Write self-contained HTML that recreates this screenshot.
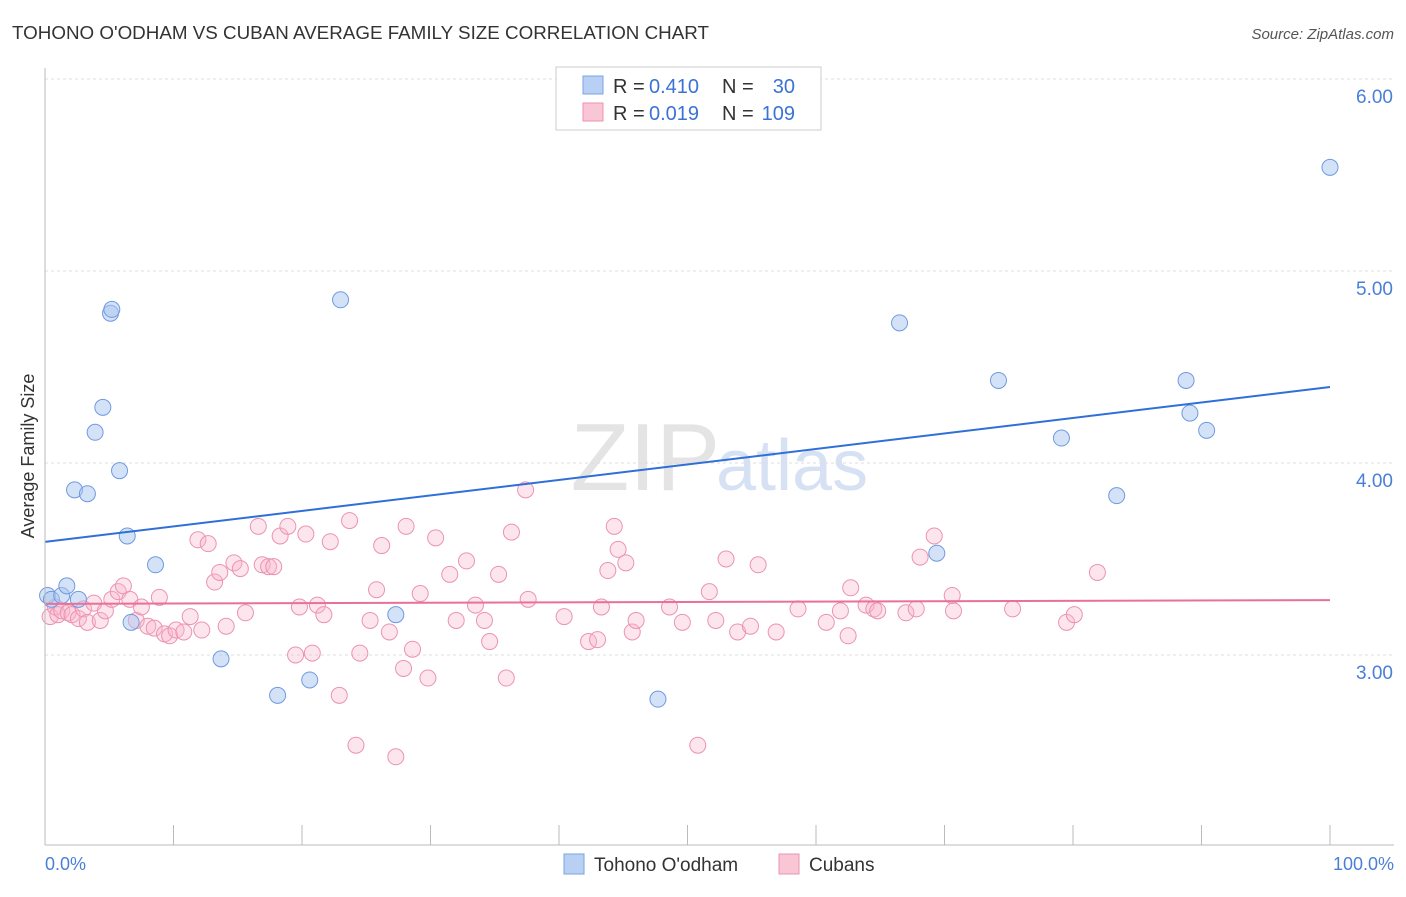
<!DOCTYPE html>
<html><head><meta charset="utf-8"><style>
body{margin:0;background:#fff;font-family:"Liberation Sans",sans-serif;}
svg text{font-family:"Liberation Sans",sans-serif;}
</style></head><body>
<svg id="c" width="1406" height="892">
<text x="12" y="39" font-size="18" fill="#333" textLength="697" lengthAdjust="spacingAndGlyphs">TOHONO O'ODHAM VS CUBAN AVERAGE FAMILY SIZE CORRELATION CHART</text>
<text x="1394" y="39" font-size="15" fill="#555" font-style="italic" text-anchor="end">Source: ZipAtlas.com</text>
<text x="720" y="490" font-size="96" fill="#e4e4e4" text-anchor="end" font-family="Liberation Serif">ZIP</text>
<text x="716" y="490" font-size="72" fill="#d6e2f4">atlas</text>
<text transform="translate(34,456) rotate(-90)" font-size="18" fill="#333" text-anchor="middle">Average Family Size</text>
<g id="grid"></g><g id="pts"></g><g id="lines"></g>
<line x1="45" y1="68" x2="45" y2="845" stroke="#bbb"/>
<line x1="45" y1="845" x2="1394" y2="845" stroke="#bbb"/>
<text x="45" y="870" font-size="18" fill="#4a7fd8">0.0%</text>
<text x="1394" y="870" font-size="18" fill="#4a7fd8" text-anchor="end">100.0%</text>
<g>
<rect x="556" y="67" width="265" height="63" fill="#fff" stroke="#ccc"/>
<rect x="583" y="76" width="20" height="18" fill="#b8d0f4" stroke="#7aa3e0"/>
<rect x="583" y="103" width="20" height="18" fill="#f9c6d6" stroke="#eb93b0"/>
<text x="613" y="93" font-size="20" fill="#333">R =</text>
<text x="649" y="93" font-size="20" fill="#3b72d6">0.410</text>
<text x="722" y="93" font-size="20" fill="#333">N =</text>
<text x="795" y="93" font-size="20" fill="#3b72d6" text-anchor="end">30</text>
<text x="613" y="120" font-size="20" fill="#333">R =</text>
<text x="649" y="120" font-size="20" fill="#3b72d6">0.019</text>
<text x="722" y="120" font-size="20" fill="#333">N =</text>
<text x="795" y="120" font-size="20" fill="#3b72d6" text-anchor="end">109</text>
</g>
<g>
<rect x="564" y="854" width="20" height="20" fill="#b8d0f4" stroke="#7aa3e0"/>
<text x="594" y="871" font-size="19" fill="#333">Tohono O'odham</text>
<rect x="779" y="854" width="20" height="20" fill="#f9c6d6" stroke="#eb93b0"/>
<text x="809" y="871" font-size="19" fill="#333">Cubans</text>
</g>
</svg>
<script>
const yTicks=[3,4,5,6];
const yTickLabels=["3.00","4.00","5.00","6.00"];
const xTicks=[0,10,20,30,40,50,60,70,80,90,100];
const blueX=[0.2,0.5,1.3,1.7,2.6,2.3,3.3,3.9,4.5,5.1,5.2,5.8,6.4,6.7,8.6,13.7,18.1,20.6,23.0,27.3,47.7,66.5,69.4,74.2,79.1,83.4,88.8,89.1,90.4,100];
const blueY=[3.31,3.29,3.31,3.36,3.29,3.86,3.84,4.16,4.29,4.78,4.80,3.96,3.62,3.17,3.47,2.98,2.79,2.87,4.85,3.21,2.77,4.73,3.53,4.43,4.13,3.83,4.43,4.26,4.17,5.54];
const pinkX=[0.4,0.8,1.0,1.3,1.8,2.1,2.6,3.0,3.3,3.8,4.3,4.7,5.2,5.7,6.1,6.6,7.1,7.5,8.0,8.5,8.9,9.3,9.7,10.2,10.8,11.3,11.9,12.2,12.7,13.2,13.6,14.1,14.7,15.2,15.6,16.6,16.9,17.4,17.8,18.3,18.9,19.5,19.8,20.3,20.8,21.2,21.7,22.2,22.9,23.7,24.2,24.5,25.3,25.8,26.2,26.8,27.3,27.9,28.1,28.6,29.2,29.8,30.4,31.5,32.0,32.8,33.5,34.2,34.6,35.3,35.9,36.3,37.4,37.6,40.4,42.3,43.0,43.3,43.8,44.3,44.6,45.2,45.7,46.0,48.6,49.6,50.8,51.7,52.2,53.0,53.9,54.9,55.5,56.9,58.6,60.8,61.9,62.5,62.7,63.9,64.5,64.8,67.0,67.8,68.1,69.2,70.6,70.7,75.3,79.5,80.1,81.9];
const pinkY=[3.20,3.25,3.21,3.23,3.22,3.21,3.19,3.24,3.17,3.27,3.18,3.23,3.29,3.33,3.36,3.29,3.18,3.25,3.15,3.14,3.30,3.11,3.10,3.13,3.12,3.20,3.60,3.13,3.58,3.38,3.43,3.15,3.48,3.45,3.22,3.67,3.47,3.46,3.46,3.62,3.67,3.00,3.25,3.63,3.01,3.26,3.21,3.59,2.79,3.70,2.53,3.01,3.18,3.34,3.57,3.12,2.47,2.93,3.67,3.03,3.32,2.88,3.61,3.42,3.18,3.49,3.26,3.18,3.07,3.42,2.88,3.64,3.86,3.29,3.20,3.07,3.08,3.25,3.44,3.67,3.55,3.48,3.12,3.18,3.25,3.17,2.53,3.33,3.18,3.50,3.12,3.15,3.47,3.12,3.24,3.17,3.23,3.10,3.35,3.26,3.24,3.23,3.22,3.24,3.51,3.62,3.31,3.23,3.24,3.17,3.21,3.43];
const blueLine=[3.589,4.396];
const pinkLine=[3.266,3.286];
const NS="http://www.w3.org/2000/svg";
const X=v=>45+v/100*1285;
const Y=v=>79+(6-v)*192;
function mk(t,a,p){const e=document.createElementNS(NS,t);for(const k in a)e.setAttribute(k,a[k]);p.appendChild(e);return e;}
const grid=document.getElementById('grid');
yTicks.forEach((t,i)=>{
 const l=mk('line',{x1:45,x2:1394,y1:Y(t),y2:Y(t),stroke:'#ddd','stroke-dasharray':'3,3'},grid);
 
 
 const tx=mk('text',{x:1393,y:Y(t)+24,'font-size':19,fill:'#4a7fd8','text-anchor':'end'},grid);
 tx.textContent=yTickLabels[i];
 
 
});
xTicks.forEach(t=>{
 const l=mk('line',{x1:X(t),x2:X(t),y1:825,y2:845,stroke:'#bbb'},grid);
 
 
});
const pts=document.getElementById('pts');
pinkX.forEach((x,i)=>{
 const c=mk('circle',{cx:X(x),cy:Y(pinkY[i]),r:8,fill:'rgba(248,180,202,0.35)',stroke:'#eb93b0','stroke-width':1},pts);
 
 
});
blueX.forEach((x,i)=>{
 const c=mk('circle',{cx:X(x),cy:Y(blueY[i]),r:8,fill:'rgba(170,198,240,0.5)',stroke:'#6f9ae0','stroke-width':1},pts);
 
 
});
const lines=document.getElementById('lines');
const bl=mk('line',{x1:X(0),x2:X(100),y1:Y(blueLine[0]),y2:Y(blueLine[1]),stroke:'#2f6fd8','stroke-width':2},lines);


const pl=mk('line',{x1:X(0),x2:X(100),y1:Y(pinkLine[0]),y2:Y(pinkLine[1]),stroke:'#e8709a','stroke-width':2},lines);


</script>
</body></html>
